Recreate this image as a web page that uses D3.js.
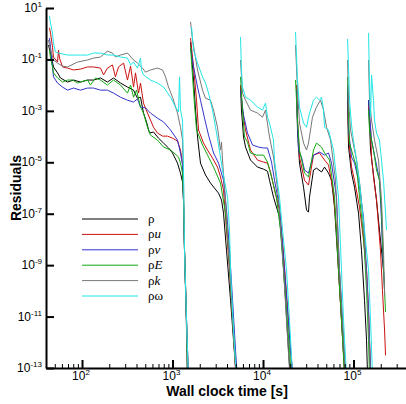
<!DOCTYPE html>
<html>
<head>
<meta charset="utf-8">
<script src="https://cdn.jsdelivr.net/npm/d3@7"></script>
<style>
  body { margin: 0; background: #fff; }
  svg { display: block; font-family: "Liberation Sans", Arial, sans-serif; }
</style>
</head>
<body>
<svg id="chart" width="406" height="404"></svg>
<script>
// residual histories, [wall clock time (s), residual]; null = restart break
const rho = [
  [42.6, 0.36], [44.9, 0.177], [48.4, 0.051], [53.6, 0.030], [57.8, 0.019], [69.2, 0.0132],
  [80.5, 0.0158], [96.2, 0.0132], [115, 0.0158], [134, 0.0158], [160, 0.019], [191, 0.0132],
  [223, 0.019], [266, 0.0121], [318, 0.0084], [371, 0.0064], [410, 3.1e-3], [443, 3.4e-3],
  [478, 8.2e-4], [516, 3.7e-4], [557, 1.37e-4], [617, 1.5e-4], [700, 8.7e-5], [796, 5.6e-5],
  [903, 3.6e-5], [1000, 2.3e-5], [1135, 9.3e-6], [1225, 3.8e-6], [1290, 1.7e-6], [1323, 3.4e-7],
  [1357, 3.8e-9], [1428, 3.0e-12], [1465, 3.4e-14], null,
  [1582, 0.475], [1623, 0.148], [1708, 0.0158], [1797, 1.07e-3], [1890, 9.6e-5], [2038, 9.3e-6],
  [2315, 3.2e-6], [2630, 1.55e-6], [2910, 9.9e-7], [3225, 6.3e-7], [3480, 3.4e-7], [3660, 1.05e-7],
  [3950, 3.8e-9], [4380, 4.3e-11], [4720, 1.2e-12], [5100, 3.4e-14], null,
  [5640, 0.0101], [5780, 1.07e-3], [6090, 9.6e-5], [6410, 3.9e-5], [7270, 1.22e-5], [8690, 6.5e-6],
  [10130, 5.4e-6], [11210, 4.5e-6], [11800, 2.0e-6], [13060, 4.4e-7], [15210, 7.4e-8],
  [16420, 3.8e-9], [17730, 4.3e-11], [19140, 4.9e-13], [20140, 3.4e-14], null,
  [23450, 6.4e-3], [24050, 1.8e-4], [25300, 9.3e-6], [28040, 1.08e-6], [30240, 1.4e-7],
  [31810, 1.15e-7], [32640, 4.4e-7], [36120, 5.0e-6], [38990, 5.9e-6], [44290, 4.2e-6],
  [47860, 6.5e-6], [52970, 3.8e-6], [57150, 2.0e-6], [61680, 1.8e-7], [68270, 6.4e-10],
  [73670, 7.2e-12], [79620, 8e-14], null,
  [85900, 2.6e-3], [88100, 3.9e-5], [95060, 3.8e-6], [102600, 1.08e-6], [113600, 1.05e-7],
  [122500, 3.8e-9], [132300, 4.3e-11], [139300, 1.2e-12], [142900, 5e-14], null,
  [146500, 2.6e-3], [154200, 3.0e-5], [166300, 3.2e-6], [179500, 3.4e-7], [198600, 9.4e-9],
  [214500, 6.4e-10]
];

const rhoU = [
  [43.7, 1.7], [44.9, 1.06], [47.2, 0.30], [48.4, 0.124], [53.6, 0.079], [55, 0.23], [56.4, 0.113],
  [60.9, 0.051], [69.2, 0.046], [80.5, 0.039], [96.2, 0.042], [115, 0.051], [134, 0.051],
  [160, 0.046], [173, 0.025], [191, 0.046], [217, 0.061], [234, 0.021], [253, 0.051], [288, 0.072],
  [318, 0.0158], [344, 0.055], [371, 8.4e-3], [390, 0.030], [421, 4.9e-3], [443, 0.0121],
  [478, 2.0e-3], [529, 8.2e-4], [571, 4.4e-4], [617, 2.3e-4], [682, 1.37e-4], [776, 1.04e-4],
  [880, 1.04e-4], [1000, 8.7e-5], [1135, 6.7e-5], [1225, 3.0e-5], [1290, 9.3e-6], [1323, 3.4e-7],
  [1357, 3.8e-9], [1428, 7.2e-12], [1503, 3.4e-14], null,
  [1582, 0.68], [1708, 0.051], [1842, 2.6e-3], [1938, 1.8e-4], [2200, 5.6e-5], [2436, 3.0e-5],
  [2767, 1.46e-5], [3140, 6.5e-6], [3390, 2.7e-6], [3660, 8.3e-7], [3950, 2.3e-8], [4265, 6.4e-10],
  [4610, 7.2e-12], [4970, 8e-14], null,
  [5640, 0.0101], [5930, 1.07e-3], [6410, 1.8e-4], [7270, 3.0e-5], [8690, 1.22e-5], [10130, 1.02e-5],
  [11210, 9.3e-6], [12100, 4.2e-6], [13400, 8.3e-7], [15210, 1.4e-7], [16420, 9.4e-9],
  [17730, 2.6e-10], [19140, 7.2e-12], [21190, 5e-14], null,
  [23450, 0.0101], [24050, 4.4e-4], [25300, 1.6e-5], [28740, 2.0e-6], [31810, 1.3e-6],
  [36120, 1.9e-5], [42090, 2.3e-5], [47860, 1.22e-5], [52970, 7.8e-6], [60130, 6.3e-7],
  [64890, 2.3e-8], [68270, 6.4e-10], [73670, 7.2e-12], [79620, 8e-14], null,
  [85900, 6.4e-3], [88100, 9.6e-5], [95060, 6.5e-6], [102600, 2.0e-6], [116500, 1.8e-7],
  [128900, 9.4e-9], [139300, 6.4e-10], [146500, 1.8e-11], [154200, 8e-14], null,
  [146500, 1.7e-3], [154200, 1.8e-4], [158100, 1.6e-5], [166300, 2.7e-6], [179500, 3.4e-7],
  [188800, 3.6e-8], [198600, 3.8e-9], [208900, 1.06e-10], [220300, 3.0e-12], [225900, 3.1e-13]
];

const rhoV = [
  [43.7, 0.68], [44.9, 0.30], [47.2, 0.051], [48.4, 0.021], [53.6, 0.0121], [60.9, 8.4e-3],
  [69.2, 6.4e-3], [80.5, 7.7e-3], [96.2, 6.4e-3], [115, 7.7e-3], [134, 7.7e-3], [160, 6.4e-3],
  [191, 6.4e-3], [223, 4.9e-3], [266, 3.4e-3], [318, 2.6e-3], [371, 2.2e-3], [410, 2.9e-3],
  [443, 1.4e-3], [503, 1.3e-3], [571, 8.2e-4], [682, 5.2e-4], [796, 3.7e-4], [951, 1.8e-4],
  [1135, 7.3e-5], [1225, 2.3e-5], [1290, 7.8e-6], [1323, 3.4e-7], [1357, 3.8e-9], [1428, 7.2e-12],
  [1503, 3.4e-14], null,
  [1582, 0.28], [1708, 0.051], [1890, 8.4e-3], [2038, 2.6e-3], [2258, 5.2e-4], [2500, 1.14e-4],
  [2840, 2.3e-5], [3225, 9.3e-6], [3660, 2.0e-6], [3950, 1.4e-7], [4265, 3.8e-9], [4610, 4.3e-11],
  [4970, 4.9e-13], [5230, 3.4e-14], null,
  [5640, 6.4e-3], [6090, 6.9e-4], [6740, 1.37e-4], [7660, 4.7e-5], [8920, 3.9e-5], [10130, 3.6e-5],
  [11210, 3.6e-5], [12420, 1.02e-5], [13400, 2.0e-6], [15210, 1.8e-7], [17280, 6.4e-10],
  [18660, 1.8e-11], [20140, 4.9e-13], [21730, 3.4e-14], null,
  [23450, 6.4e-3], [24050, 2.8e-4], [24660, 3.0e-5], [26620, 1.6e-5], [28740, 5.0e-6],
  [31810, 3.8e-6], [36120, 1.9e-5], [42090, 2.5e-5], [47860, 1.9e-5], [52970, 2.3e-5],
  [57150, 9.3e-6], [64890, 4.4e-7], [70000, 6.4e-10], [75570, 7.2e-12], [81660, 5e-14], null,
  [85900, 0.0101], [88100, 1.8e-4], [95060, 1.6e-5], [102600, 9.3e-6], [113600, 2.0e-6],
  [128900, 7.4e-8], [139300, 6.4e-10], [146500, 1.8e-11], [154200, 8e-14], null,
  [146500, 2.6e-3], [158100, 7.3e-5], [175000, 1.22e-5], [193700, 2.0e-6], [203800, 5.6e-8],
  [208900, 3.8e-9], [220300, 1.06e-10]
];

const rhoE = [
  [43.7, 0.23], [44.9, 0.113], [47.2, 0.051], [48.4, 0.030], [53.6, 0.019], [60.9, 0.0132],
  [69.2, 0.0158], [78.5, 0.0158], [89.2, 0.0121], [96.2, 0.0132], [115, 0.0158], [124, 0.0101],
  [141, 0.019], [160, 0.0158], [191, 0.0101], [223, 0.0158], [266, 0.0101], [318, 4.9e-3],
  [344, 0.0101], [371, 3.4e-3], [400, 6.4e-3], [443, 1.4e-3], [478, 8.2e-4], [529, 2.3e-4],
  [571, 1.14e-4], [682, 7.3e-5], [796, 3.9e-5], [951, 3.0e-5], [1165, 1.6e-5], [1225, 9.3e-6],
  [1290, 3.8e-6], [1323, 3.4e-7], [1357, 3.8e-9], [1428, 7.2e-12], [1465, 3.4e-14], null,
  [1582, 0.30], [1665, 0.021], [1750, 1.7e-3], [1842, 1.8e-4], [2145, 4.7e-5], [2500, 1.6e-5],
  [2840, 6.5e-6], [3390, 1.55e-6], [3850, 1.05e-7], [4160, 3.8e-9], [4490, 4.3e-11],
  [4850, 4.9e-13], [5100, 3.4e-14], null,
  [5640, 0.021], [5930, 1.07e-3], [6250, 9.6e-5], [6740, 6.1e-5], [7270, 2.3e-5], [8470, 1.9e-5],
  [10130, 1.9e-5], [11210, 1.02e-5], [12420, 2.7e-6], [14090, 4.4e-7], [15600, 2.3e-8],
  [16850, 6.4e-10], [18190, 1.8e-11], [19630, 4.9e-13], [20650, 3.4e-14], null,
  [22860, 0.0158], [24050, 4.4e-4], [25300, 3.0e-5], [28740, 3.8e-6], [31810, 2.7e-6],
  [36120, 3.0e-5], [38990, 5.6e-5], [44290, 3.9e-5], [47860, 2.3e-5], [54330, 1.22e-5],
  [61680, 4.4e-7], [68270, 6.4e-10], [73670, 7.2e-12], [79620, 5e-14], null,
  [85900, 0.021], [88100, 6.9e-4], [90360, 5.6e-5], [100000, 1.6e-5], [108000, 6.5e-6],
  [116500, 4.4e-7], [128900, 1.5e-8], [139300, 1.06e-10], [146500, 1.2e-12], [150300, 5e-14], null,
  [146500, 1.07e-3], [150300, 1.8e-4], [166300, 3.0e-5], [179500, 5.0e-6], [193700, 2.0e-6],
  [203800, 1.4e-7], [214500, 8.4e-10], [225900, 1.5e-11]
];

const rhoK = [
  [42.6, 0.57], [44.9, 0.23], [48.4, 0.095], [53.6, 0.072], [60.9, 0.055], [69.2, 0.051],
  [89.2, 0.079], [115, 0.095], [134, 0.113], [160, 0.124], [191, 0.21], [217, 0.177], [234, 0.124],
  [266, 0.148], [318, 0.177], [371, 0.095], [410, 0.072], [466, 0.046], [503, 0.032], [571, 0.039],
  [682, 0.046], [776, 0.039], [837, 0.021], [903, 8.4e-3], [1000, 3.4e-3], [1135, 8.2e-4],
  [1225, 2.3e-4], [1290, 7.3e-5], [1323, 2.0e-6], [1357, 3.8e-9], [1428, 7.2e-12], [1465, 3.4e-14], null,
  [1582, 2.9], [1665, 0.57], [1890, 0.039], [2145, 6.4e-3], [2315, 3.1e-3], [2630, 2.6e-3],
  [2840, 1.07e-3], [3140, 2.3e-4], [3390, 3.0e-5], [3480, 6.1e-5], [3567, 1.22e-5], [3850, 3.4e-7],
  [4160, 3.8e-9], [4490, 4.3e-11], [4850, 4.9e-13], [5100, 3.4e-14], null,
  [5640, 0.095], [5930, 4.9e-3], [6410, 2.6e-3], [7270, 1.07e-3], [8690, 8.2e-4], [9870, 5.7e-4],
  [10660, 1.07e-3], [10930, 5.7e-4], [11800, 9.6e-5], [13060, 1.6e-5], [14840, 4.4e-7],
  [16850, 6.4e-10], [18190, 7.2e-12], [19630, 8e-14], null,
  [22860, 0.36], [24050, 6.4e-3], [25300, 3.35e-4], [28040, 5.6e-5], [30240, 3.0e-5],
  [31810, 5.6e-5], [35210, 5.7e-4], [38990, 1.4e-3], [43150, 2.6e-3], [46650, 1.07e-3],
  [50350, 2.3e-4], [55730, 7.3e-5], [63240, 2.0e-6], [70000, 6.4e-10], [75570, 7.2e-12],
  [81660, 5e-14], null,
  [85900, 0.095], [88100, 2.6e-3], [92700, 1.8e-4], [100000, 4.7e-5], [108000, 1.22e-5],
  [119500, 8.3e-7], [132300, 9.4e-9], [142900, 4.3e-11], [150300, 4.9e-13], [154200, 3.4e-14], null,
  [146500, 0.095], [150300, 2.6e-3], [158100, 4.4e-4], [170600, 7.3e-5], [188800, 1.22e-5],
  [203800, 3.4e-7], [214500, 3.8e-9], [220300, 6.7e-11]
];

const rhoW = [
  [43.7, 4.9], [44.9, 2.6], [47.2, 1.06], [48.4, 0.43], [50.9, 0.194], [55, 0.177], [69.2, 0.148],
  [96.2, 0.148], [115, 0.148], [134, 0.177], [160, 0.177], [191, 0.148], [223, 0.148], [266, 0.124],
  [318, 0.113], [344, 0.061], [371, 0.079], [410, 0.046], [443, 0.113], [454, 0.039], [478, 0.025],
  [571, 0.0158], [682, 0.0121], [796, 8.4e-3], [951, 3.4e-3], [1080, 1.4e-3], [1165, 9.0e-4],
  [1195, 0.021], [1225, 1.07e-3], [1290, 4.4e-4], [1323, 5.0e-6], [1357, 3.8e-9], [1428, 7.2e-12],
  [1503, 3.4e-14], null,
  [1623, 1.82], [1708, 0.23], [1890, 0.072], [2145, 0.021], [2315, 0.0121], [2500, 4.9e-3],
  [2767, 1.07e-3], [2990, 2.3e-4], [3225, 4.7e-5], [3567, 5.0e-6], [4055, 4.4e-7], [4265, 2.3e-8],
  [4380, 6.4e-10], [4720, 3.0e-12], [5100, 3.4e-14], null,
  [5640, 0.74], [5780, 0.039], [5930, 8.4e-3], [6410, 3.4e-3], [7270, 2.6e-3], [8690, 1.4e-3],
  [9870, 1.07e-3], [10660, 2.0e-3], [11210, 5.7e-4], [11800, 3.35e-4], [13060, 7.3e-5],
  [13400, 1.22e-5], [15210, 4.4e-7], [16850, 9.4e-9], [18190, 6.4e-10], [19630, 7.2e-12],
  [21190, 5e-14], null,
  [22860, 1.16], [24050, 0.0158], [25300, 1.4e-3], [28040, 3.35e-4], [30240, 2.3e-4],
  [32640, 8.2e-4], [36120, 2.6e-3], [38990, 3.4e-3], [42090, 2.6e-3], [44290, 3.4e-3],
  [46650, 1.07e-3], [47860, 2.3e-4], [52970, 1.8e-4], [60130, 3.0e-5], [68270, 4.4e-7],
  [73670, 6.4e-10], [77560, 7.2e-12], [83750, 5e-14], null,
  [85900, 0.62], [88100, 0.051], [90360, 2.6e-3], [95060, 2.8e-4], [100000, 7.3e-5],
  [108000, 1.22e-5], [116500, 1.55e-6], [132300, 2.3e-8], [146500, 6.4e-10], [154200, 7.2e-12],
  [162200, 5e-14], null,
  [146500, 1.06], [150300, 0.0121], [154200, 5.7e-4], [158100, 0.025], [166300, 2.6e-3],
  [170600, 4.4e-4], [179500, 1.37e-4], [193700, 7.3e-5], [203800, 1.22e-5], [214500, 2.0e-6],
  [231700, 2.3e-8]
];

const seriesNames = ["ρ", "ρu", "ρv", "ρE", "ρk", "ρω"];
const seriesData = [rho, rhoU, rhoV, rhoE, rhoK, rhoW];
const seriesColors = ["#000000", "#cc1111", "#3333cc", "#11aa11", "#777777", "#22e6e6"];

const xMajor = [1e2, 1e3, 1e4, 1e5];
const yMajor = [1e1, 1e-1, 1e-3, 1e-5, 1e-7, 1e-9, 1e-11, 1e-13];

const svg = d3.select("#chart");
const plotLeft = 46, plotTop = 8, plotRight = 408, plotBottom = 368;

const x = d3.scaleLog().domain([40, 4e5]).range([plotLeft, plotRight]);
const y = d3.scaleLog().domain([1e-13, 10]).range([plotBottom, plotTop]);

svg.append("clipPath").attr("id", "plot-clip")
  .append("rect")
  .attr("x", plotLeft).attr("y", plotTop)
  .attr("width", plotRight - plotLeft).attr("height", plotBottom - plotTop);

const line = d3.line()
  .defined(d => d !== null)
  .x(d => x(d[0]))
  .y(d => y(d[1]));

const plot = svg.append("g").attr("clip-path", "url(#plot-clip)");
seriesData.forEach((data, i) => {
  plot.append("path")
    .datum(data)
    .attr("fill", "none")
    .attr("stroke", seriesColors[i])
    .attr("stroke-width", 1)
    .attr("d", line);
});

// minor x ticks (2..9 in each decade)
const xMinor = x.ticks().filter(v => {
  const m = v / Math.pow(10, Math.floor(Math.log10(v) + 1e-9));
  return Math.abs(m - 1) > 1e-6;
});

svg.append("g")
  .attr("transform", `translate(0,${plotBottom})`)
  .call(d3.axisBottom(x).tickValues(xMinor).tickSize(-4).tickFormat(""))
  .call(g => g.select(".domain").remove())
  .call(g => g.selectAll("line").attr("stroke-width", 1));

const xAxis = svg.append("g")
  .attr("transform", `translate(0,${plotBottom})`)
  .call(d3.axisBottom(x).tickValues(xMajor).tickSize(-8).tickSizeOuter(0).tickFormat(""));
xAxis.select(".domain").attr("stroke-width", 2);
xAxis.selectAll("line").attr("stroke-width", 2);

const yAxis = svg.append("g")
  .attr("transform", `translate(${plotLeft},0)`)
  .call(d3.axisLeft(y).tickValues(yMajor).tickSize(-8).tickSizeOuter(0).tickFormat(""));
yAxis.select(".domain").attr("stroke-width", 2);
yAxis.selectAll("line").attr("stroke-width", 2);

// tick labels with superscript exponents
function powerLabel(sel, v) {
  sel.append("tspan").text("10");
  sel.append("tspan").attr("font-size", 8).attr("dy", -5)
    .text(Math.round(Math.log10(v)));
}

xMajor.forEach(v => {
  const t = svg.append("text")
    .attr("x", x(v) - 1).attr("y", 380)
    .attr("text-anchor", "middle")
    .attr("font-size", 12);
  powerLabel(t, v);
});

yMajor.forEach(v => {
  const t = svg.append("text")
    .attr("x", 42).attr("y", y(v) + 4)
    .attr("text-anchor", "end")
    .attr("font-size", 12);
  powerLabel(t, v);
});

svg.append("text")
  .attr("x", 227).attr("y", 396)
  .attr("text-anchor", "middle")
  .attr("font-size", 14).attr("font-weight", "bold")
  .text("Wall clock time [s]");

svg.append("text")
  .attr("transform", "translate(21,188) rotate(-90)")
  .attr("text-anchor", "middle")
  .attr("font-size", 14).attr("font-weight", "bold")
  .text("Residuals");

// legend
const legend = svg.append("g").attr("font-family", "'Liberation Serif', 'Times New Roman', serif");
seriesNames.forEach((name, i) => {
  const ly = 219 + i * 15.4;
  legend.append("line")
    .attr("x1", 82).attr("x2", 138)
    .attr("y1", ly).attr("y2", ly)
    .attr("stroke", seriesColors[i]).attr("stroke-width", 1);
  const t = legend.append("text")
    .attr("x", 148).attr("y", ly + 4)
    .attr("font-size", 13);
  t.append("tspan").text(name.charAt(0));
  if (name.length > 1) {
    const sub = name.slice(1);
    t.append("tspan").attr("font-style", sub === "ω" ? "normal" : "italic").text(sub);
  }
});
</script>
</body>
</html>
